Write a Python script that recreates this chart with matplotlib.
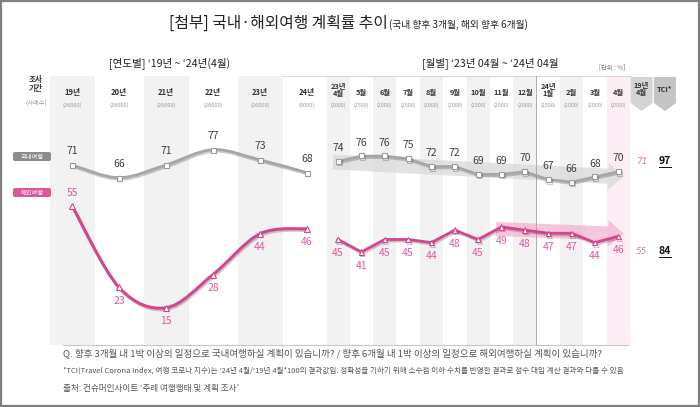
import numpy as np
import matplotlib
matplotlib.use("Agg")
import matplotlib.pyplot as plt
import matplotlib.patheffects as pe
from matplotlib.path import Path
from matplotlib.patches import PathPatch, Rectangle, Polygon, FancyArrow, FancyBboxPatch

plt.rcParams['font.family'] = ['Noto Sans CJK KR', 'DejaVu Sans']

# ---- data ----
years = ['19년', '20년', '21년', '22년', '23년', '24년']
year_n = ['(26000)', '(26000)', '(26000)', '(26000)', '(26000)', '(9000)']
year_dom = [71, 66, 71, 77, 73, 68]
year_ovs = [55, 23, 15, 28, 44, 46]

months = ['23년\n4월', '5월', '6월', '7월', '8월', '9월', '10월', '11월', '12월',
          '24년\n1월', '2월', '3월', '4월']
month_n = ['(2000)', '(2500)', '(2000)', '(2500)', '(2000)', '(2000)', '(2500)',
           '(2000)', '(2000)', '(2500)', '(2000)', '(2000)', '(2500)']
month_dom = [74, 76, 76, 75, 72, 72, 69, 69, 70, 67, 66, 68, 70]
month_ovs = [45, 41, 45, 45, 44, 48, 45, 49, 48, 47, 47, 44, 46]

ref_labels = ['19년\n4월', 'TCI*']
ref_19apr = [71, 55]
tci = [97, 84]

# ---- colours ----
GRAY_LINE = '#a6a6a6'
PINK_LINE = '#d6448e'
PINK_TXT = '#e05aa6'
DARK_TXT = '#404040'
BAND = '#f2f2f2'
BAND_PINK = '#fdeef5'

# column layout (pixels)
yx = 72 + 47 * np.arange(len(years))
mx = 338 + 23.35 * np.arange(len(months))
rx = 338 + 23.35 * np.array([13, 14])
TOP, BOT = 76, 345

fig = plt.figure(figsize=(7, 4.07), dpi=100)

# layout axes in pixel units
lay = fig.add_axes([0, 0, 1, 1])
lay.set_xlim(0, 700)
lay.set_ylim(407, 0)
lay.axis('off')


def data_axes(ylim):
    a = fig.add_axes([0, 0, 1, 1])
    a.set_xlim(0, 700)
    a.set_ylim(*ylim)
    a.axis('off')
    return a


def smooth_path(x, y):
    pts = np.column_stack([x, y]).astype(float)
    n = len(pts)
    verts = [pts[0]]
    codes = [Path.MOVETO]
    for i in range(n - 1):
        p0 = pts[i - 1] if i > 0 else pts[i]
        p1, p2 = pts[i], pts[i + 1]
        p3 = pts[i + 2] if i + 2 < n else pts[i + 1]
        verts += [p1 + (p2 - p0) / 6, p2 - (p3 - p1) / 6, p2]
        codes += [Path.CURVE4] * 3
    return Path(verts, codes)


# outer frame
lay.add_patch(Rectangle((1, 1), 698, 405, fill=False, ec='#808080', lw=1.6))

# title
lay.text(388, 28, '[첨부] 국내·해외여행 계획률 추이', ha='right', va='baseline',
         fontsize=11.4, color='#222222')
lay.text(389, 28, '(국내 향후 3개월, 해외 향후 6개월)', ha='left', va='baseline',
         fontsize=7, color='#222222')

lay.text(170, 63, '[연도별] ‘19년 ~ ‘24년(4월)', ha='center', va='center',
         fontsize=7.6, color='#222222')
lay.text(490, 63, '[월별] ‘23년 04월 ~ ‘24년 04월', ha='center', va='center',
         fontsize=7.6, color='#222222')
lay.text(612, 68, '[단위 : %]', ha='center', va='center', fontsize=4.6, color='#777777')

# background bands
for i, x in enumerate(yx):
    if i % 2 == 0:
        lay.add_patch(Rectangle((x - 22.5, TOP), 45, BOT - TOP, fc=BAND, ec='none'))
for j, x in enumerate(mx):
    if j == len(mx) - 1:
        lay.add_patch(Rectangle((x - 11.5, TOP), 23, BOT - TOP, fc=BAND_PINK, ec='none'))
    elif j % 2 == 0:
        lay.add_patch(Rectangle((x - 11.5, TOP), 23, BOT - TOP, fc=BAND, ec='none'))

lay.plot([283, 630], [TOP, TOP], color='#d0d0d0', lw=0.6)
lay.plot([63, 628], [BOT, BOT], color='#c8c8c8', lw=0.8)
sep = (mx[8] + mx[9]) / 2
lay.plot([sep, sep], [TOP, BOT], color='#a0a0a0', lw=0.6)

# header
lay.text(36, 84, '조사\n기간', ha='center', va='center', fontsize=5.5, fontweight='bold',
         color='#333333', linespacing=1.1)
lay.text(36, 104, '(사례수)', ha='center', va='center', fontsize=4.5, color='#999999')
for x, lab, n in zip(yx, years, year_n):
    lay.text(x, 92, lab, ha='center', va='center', fontsize=5.5, fontweight='bold', color='#333333')
    lay.text(x, 105, n, ha='center', va='center', fontsize=4.1, color='#999999')
for x, lab, n in zip(mx, months, month_n):
    lay.text(x, 90 if '\n' in lab else 92, lab, ha='center', va='center', fontsize=5.3,
             fontweight='bold', color='#333333', linespacing=1.05)
    lay.text(x, 105, n, ha='center', va='center', fontsize=3.9, color='#999999')
for x, lab, c in zip(rx, ref_labels, ['#d4d4d4', '#c4c4c4']):
    lay.add_patch(Polygon([(x - 11, 77), (x + 11, 77), (x + 11, 103), (x, 111), (x - 11, 103)],
                          closed=True, fc=c, ec='none'))
    lay.text(x, 89, lab, ha='center', va='center', fontsize=5.3, fontweight='bold',
             color='#333333', linespacing=1.05)

# series tags
lay.add_patch(FancyBboxPatch((13, 152), 38, 9, boxstyle='round,pad=0,rounding_size=2',
                             fc='#8c8c8c', ec='none'))
lay.text(32, 156.7, '국내여행', ha='center', va='center', fontsize=4.5, color='white')
lay.add_patch(FancyBboxPatch((13, 188), 38, 9, boxstyle='round,pad=0,rounding_size=2',
                             fc='#e0559a', ec='none'))
lay.text(32, 192.7, '해외여행', ha='center', va='center', fontsize=4.5, color='white')

# trend arrows
lay.add_patch(FancyArrow(333, 162, 290, 15, width=15, head_width=28, head_length=15,
                         length_includes_head=True, fc='#d9d9d9', ec='none', alpha=0.75))
lay.add_patch(FancyArrow(496, 229, 128, 5, width=14, head_width=27, head_length=16,
                         length_includes_head=True, fc='#f4b3d2', ec='none', alpha=0.75))

# data axes
ax_y = data_axes(((346 - 407) / 2.55, 346 / 2.55))
ax_md = data_axes(((353.6 - 407) / 2.6, 353.6 / 2.6))
ax_mo = data_axes(((380.1 - 407) / 3.125, 380.1 / 3.125))

shadow = [pe.SimpleLineShadow(offset=(0.8, -1.2), shadow_color='k', alpha=0.2), pe.Normal()]

ax_y.add_patch(PathPatch(smooth_path(yx, year_dom), fill=False, ec=GRAY_LINE, lw=2.0,
                         path_effects=shadow))
ax_y.add_patch(PathPatch(smooth_path(yx, year_ovs), fill=False, ec=PINK_LINE, lw=2.2,
                         path_effects=shadow))
ax_y.plot(yx, year_dom, ls='none', marker='s', ms=3.6, mfc='white', mec='#9a9a9a', mew=0.8)
ax_y.plot(yx, year_ovs, ls='none', marker='^', ms=3.8, mfc='white', mec=PINK_LINE, mew=0.8)

ax_md.plot(mx, month_dom, color=GRAY_LINE, lw=1.8, marker='s', ms=3.6, mfc='white',
           mec='#9a9a9a', mew=0.8, path_effects=shadow)
ax_mo.plot(mx, month_ovs, color=PINK_LINE, lw=2.0, marker='^', ms=3.8, mfc='white',
           mec=PINK_LINE, mew=0.8, path_effects=shadow)

for x, v in zip(yx, year_dom):
    ax_y.annotate(str(v), (x, v), xytext=(0, 10), textcoords='offset points',
                  ha='center', va='center', fontsize=7.5, color=DARK_TXT)
for i, (x, v) in enumerate(zip(yx, year_ovs)):
    ax_y.annotate(str(v), (x, v), xytext=(0, 9.5 if i == 0 else -9.5), textcoords='offset points',
                  ha='center', va='center', fontsize=7.5, color=PINK_TXT)
for x, v in zip(mx, month_dom):
    ax_md.annotate(str(v), (x, v), xytext=(0, 9.5), textcoords='offset points',
                   ha='center', va='center', fontsize=7.5, color=DARK_TXT)
for x, v in zip(mx, month_ovs):
    ax_mo.annotate(str(v), (x, v), xytext=(0, -10), textcoords='offset points',
                   ha='center', va='center', fontsize=7.5, color=PINK_TXT)

# 19년 4월 and TCI columns
for y, r, t in zip([161, 251], ref_19apr, tci):
    lay.text(rx[0], y, str(r), ha='center', va='center', fontsize=7, style='italic',
             family=['Lato', 'DejaVu Sans'], color='#c878a8')
    lay.text(rx[1], y, str(t), ha='center', va='center', fontsize=7.5, fontweight='bold',
             color='#111111')
    lay.plot([rx[1] - 6, rx[1] + 6], [y + 6, y + 6], color='#111111', lw=0.7)

# footnotes
lay.text(63, 353, 'Q. 향후 3개월 내 1박 이상의 일정으로 국내여행하실 계획이 있습니까? / '
         '향후 6개월 내 1박 이상의 일정으로 해외여행하실 계획이 있습니까?',
         ha='left', va='center', fontsize=6.9, color='#555555')
lay.text(63, 371, '*TCI(Travel Corona Index, 여행 코로나 지수)는 ‘24년 4월/‘19년 4월*100의 결과값임. '
         '정확성을 기하기 위해 소수점 이하 수치를 반영한 결과로 정수 대입 계산 결과와 다를 수 있음',
         ha='left', va='center', fontsize=5.45, color='#555555')
lay.text(63, 389, '출처: 컨슈머인사이트 ‘주례 여행행태 및 계획 조사’',
         ha='left', va='center', fontsize=6.2, color='#555555')

fig.savefig('out.png', dpi=100)
